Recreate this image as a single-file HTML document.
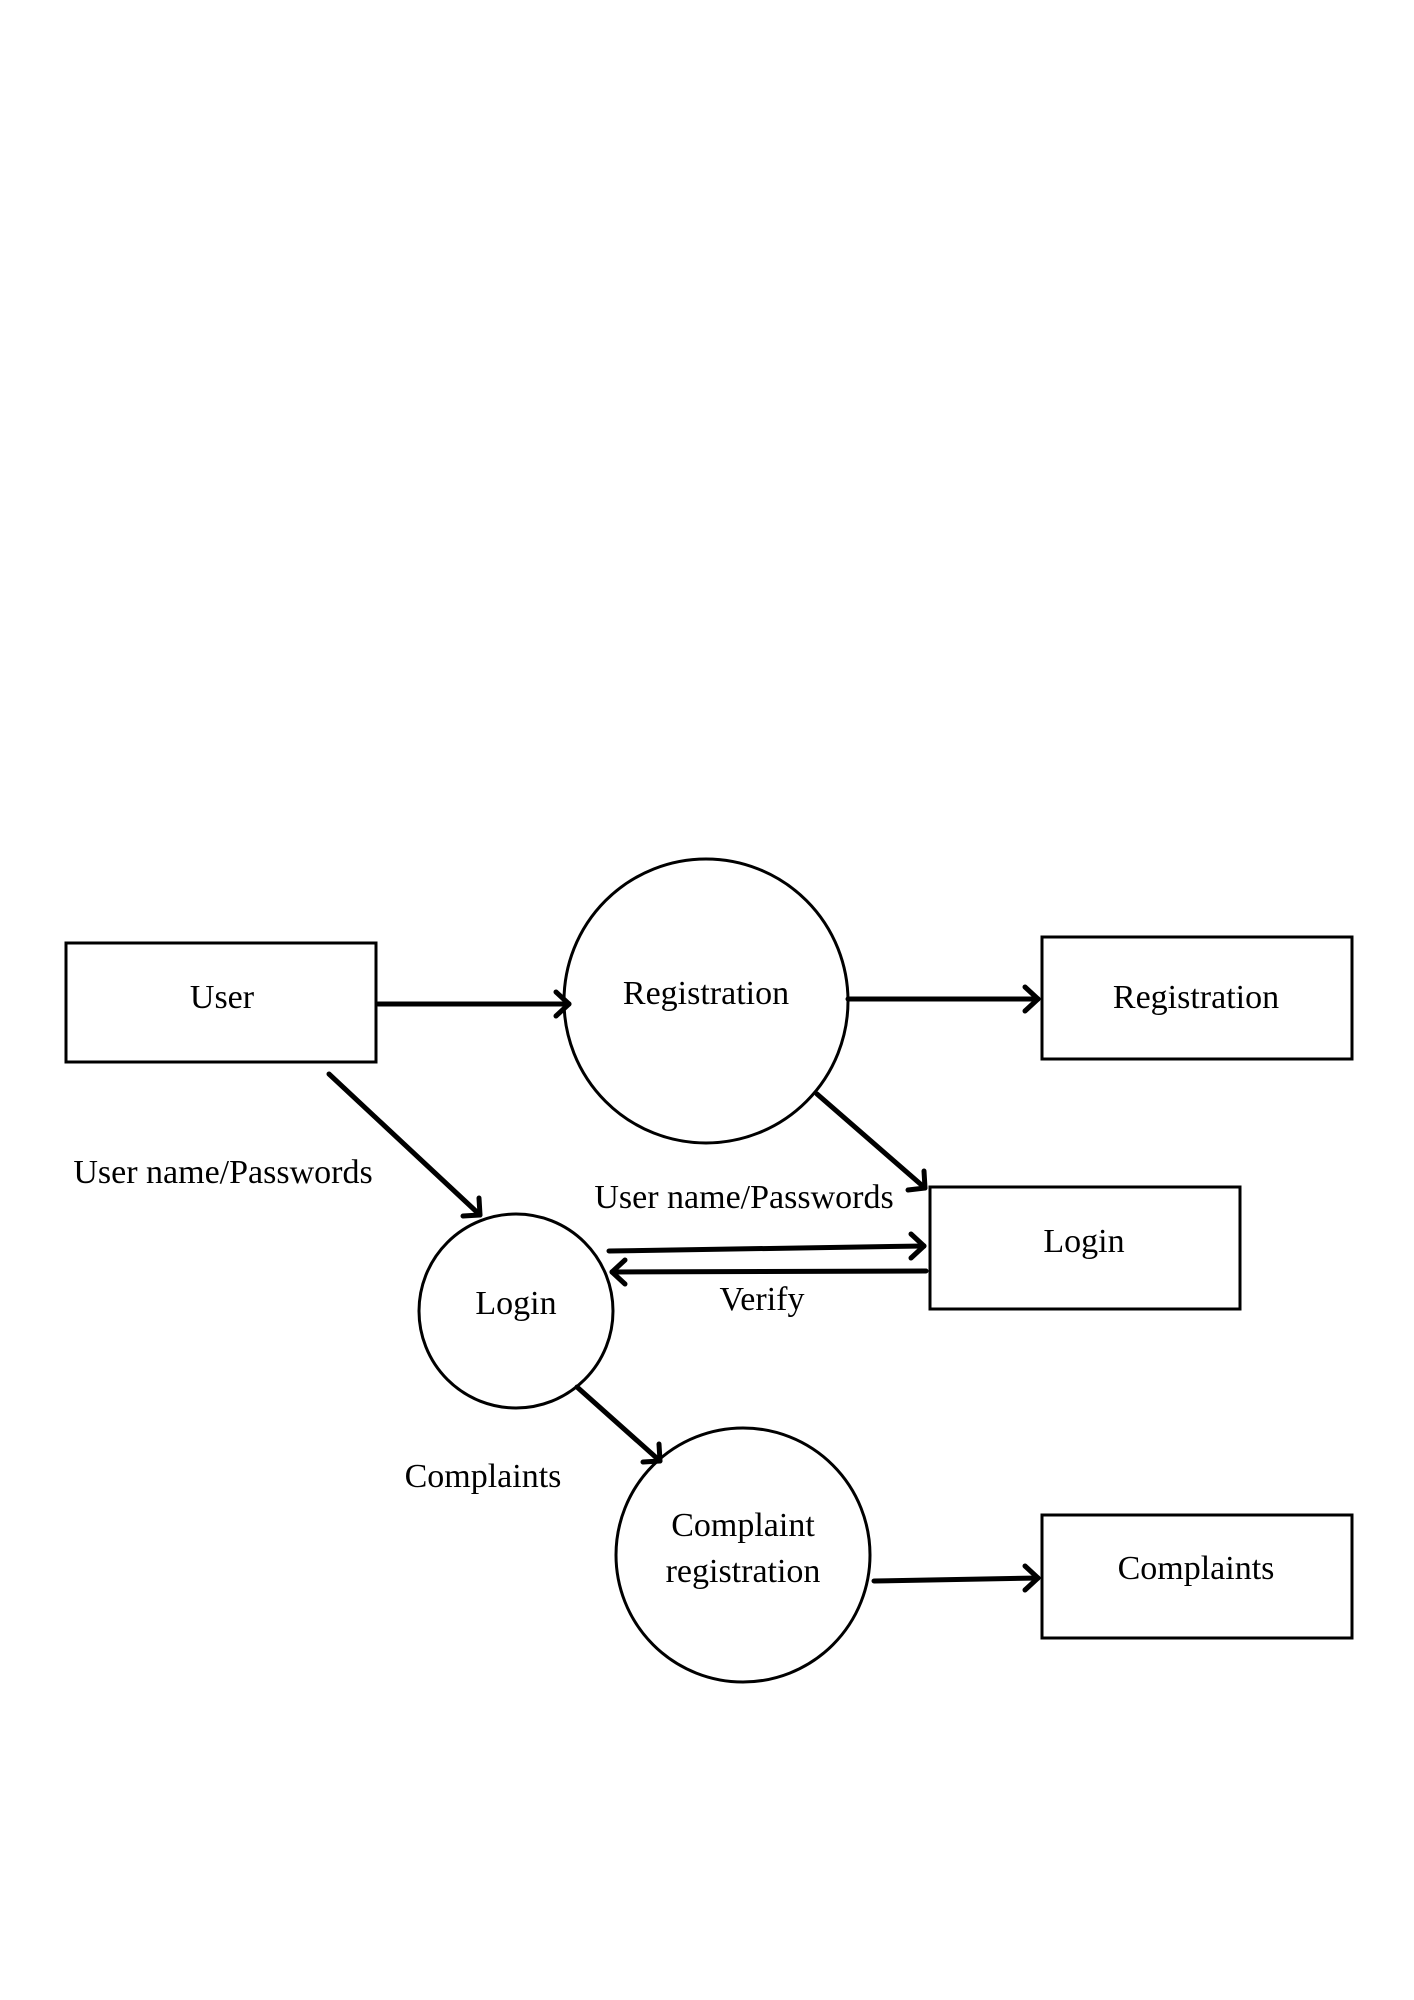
<!DOCTYPE html>
<html><head><meta charset="utf-8"><style>
html,body{margin:0;padding:0;background:#fff;}
svg{display:block;}
text{font-family:"Liberation Serif",serif;font-size:34px;fill:#000;text-anchor:middle;dominant-baseline:middle;}
</style></head><body>
<svg width="1414" height="2000" viewBox="0 0 1414 2000">
<g transform="translate(0,3)">
<g fill="none" stroke="#000" stroke-width="3">
<rect x="66" y="940" width="310" height="119"/>
<rect x="1042" y="934" width="310" height="122"/>
<rect x="930" y="1184" width="310" height="122"/>
<rect x="1042" y="1512" width="310" height="123"/>
<circle cx="706" cy="998" r="142"/>
<circle cx="516" cy="1308" r="97"/>
<circle cx="743" cy="1552" r="127"/>
</g>
<g fill="none" stroke="#000" stroke-width="5" stroke-linecap="round" stroke-linejoin="round">
<line x1="378" y1="1001" x2="569" y2="1001"/><polyline points="556,989 569,1001 556,1013"/>
<line x1="848" y1="996" x2="1038" y2="996"/><polyline points="1025,984 1038,996 1025,1008"/>
<line x1="329" y1="1071" x2="480" y2="1212"/><polyline points="463,1213 480,1212 479,1195"/>
<line x1="817" y1="1091" x2="925" y2="1185"/><polyline points="908,1187 925,1185 924,1168"/>
<line x1="609" y1="1248" x2="924" y2="1243"/><polyline points="911,1231 924,1243 911,1255"/>
<line x1="926" y1="1268" x2="612" y2="1269"/><polyline points="625,1257 612,1269 625,1281"/>
<line x1="577" y1="1384" x2="660" y2="1458"/><polyline points="643,1459 660,1458 659,1441"/>
<line x1="874" y1="1578" x2="1038" y2="1575"/><polyline points="1025,1563 1038,1575 1025,1587"/>
</g>
<text x="222" y="997">User</text>
<text x="1196" y="997">Registration</text>
<text x="1084" y="1241">Login</text>
<text x="1196" y="1568">Complaints</text>
<text x="706" y="993">Registration</text>
<text x="516" y="1303">Login</text>
<text x="743" y="1525">Complaint</text>
<text x="743" y="1571">registration</text>
<text x="223" y="1172">User name/Passwords</text>
<text x="744" y="1197">User name/Passwords</text>
<text x="762" y="1299">Verify</text>
<text x="483" y="1476">Complaints</text>
</g>
</svg>
</body></html>
